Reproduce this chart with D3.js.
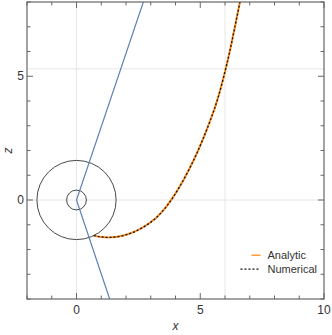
<!DOCTYPE html>
<html>
<head>
  <meta charset="utf-8">
  <title>trajectory</title>
  <style>
  body { margin: 0; background: #fff; }
  text { font-family: "Liberation Sans", Arial, sans-serif; fill: #333; }
  </style>
</head>
<body>
  <svg width="332" height="335"></svg>
  <script src="https://d3js.org/d3.v7.min.js"></script>
  <script>
  // axis ticks
  var xMajor = [0, 5, 10];
  var zMajor = [0, 5];
  var xMinor = [-2, -1, 1, 2, 3, 4, 6, 7, 8, 9];
  var zMinor = [-4, -3, -2, -1, 1, 2, 3, 4, 6, 7, 8];
  var xGrid = [0, 6];
  var zGrid = [0, 5.3];

  // circles round the origin
  var radii = [0.4, 1.6];

  // straight blue line through the origin
  var coneX = [1.34, 0, 2.7];
  var coneZ = [-4, 0, 8];

  // trajectory
  var trajX = [0.70, 1.0, 1.35, 1.8, 2.36, 3.0, 3.45, 3.88, 4.34, 4.76, 5.07, 5.42, 5.71, 6.03, 6.21, 6.35, 6.61, 6.70];
  var trajZ = [-1.44, -1.50, -1.52, -1.475, -1.30, -0.93, -0.51, 0.05, 0.82, 1.65, 2.35, 3.24, 4.05, 5.29, 6.07, 6.75, 8.03, 8.5];

  var legendNames = ["Analytic", "Numerical"];

  var svg = d3.select("svg"),
      margin = {top: 2, right: 8, bottom: 36, left: 27},
      width = +svg.attr("width") - margin.left - margin.right,
      height = +svg.attr("height") - margin.top - margin.bottom,
      g = svg.append("g").attr("transform", "translate(" + margin.left + "," + margin.top + ")");

  var x = d3.scaleLinear().domain([-2, 10]).range([0, width]);
  var y = d3.scaleLinear().domain([-4, 8]).range([height, 0]);

  g.append("clipPath").attr("id", "clip")
    .append("rect").attr("width", width).attr("height", height);

  // grid
  g.selectAll(".gx").data(xGrid).enter().append("line")
    .attr("x1", function(d) { return x(d); }).attr("x2", function(d) { return x(d); })
    .attr("y1", 0).attr("y2", height)
    .attr("stroke", "#e6e6e6").attr("stroke-width", 1);
  g.selectAll(".gz").data(zGrid).enter().append("line")
    .attr("y1", function(d) { return y(d); }).attr("y2", function(d) { return y(d); })
    .attr("x1", 0).attr("x2", width)
    .attr("stroke", "#e6e6e6").attr("stroke-width", 1);

  var plot = g.append("g").attr("clip-path", "url(#clip)");

  // circles
  plot.selectAll("circle").data(radii).enter().append("circle")
    .attr("cx", x(0)).attr("cy", y(0))
    .attr("r", function(d) { return x(d) - x(0); })
    .attr("fill", "none").attr("stroke", "#333").attr("stroke-width", 0.9);

  var line = d3.line()
    .x(function(d) { return x(d[0]); })
    .y(function(d) { return y(d[1]); });

  plot.append("path")
    .datum(d3.zip(coneX, coneZ))
    .attr("fill", "none").attr("stroke", "#5e81b5").attr("stroke-width", 1.2)
    .attr("d", line);

  var curve = d3.line()
    .curve(d3.curveBasis)
    .x(function(d) { return x(d[0]); })
    .y(function(d) { return y(d[1]); });

  var traj = d3.zip(trajX, trajZ);
  plot.append("path").datum(traj)
    .attr("fill", "none").attr("stroke", "#ff8c1a").attr("stroke-width", 2)
    .attr("d", curve);
  plot.append("path").datum(traj)
    .attr("fill", "none").attr("stroke", "#111").attr("stroke-width", 1.3)
    .attr("stroke-dasharray", "2,2")
    .attr("d", curve);

  // frame and ticks
  var frameColor = "#666";
  g.append("rect").attr("width", width).attr("height", height)
    .attr("fill", "none").attr("stroke", frameColor).attr("stroke-width", 1.2);

  function ticks(vals, len, axis) {
    vals.forEach(function(v) {
      if (axis === "x") {
        g.append("line").attr("x1", x(v)).attr("x2", x(v)).attr("y1", height).attr("y2", height - len)
          .attr("stroke", frameColor);
        g.append("line").attr("x1", x(v)).attr("x2", x(v)).attr("y1", 0).attr("y2", len)
          .attr("stroke", frameColor);
      } else {
        g.append("line").attr("y1", y(v)).attr("y2", y(v)).attr("x1", 0).attr("x2", len)
          .attr("stroke", frameColor);
        g.append("line").attr("y1", y(v)).attr("y2", y(v)).attr("x1", width).attr("x2", width - len)
          .attr("stroke", frameColor);
      }
    });
  }
  ticks(xMajor, 6, "x");
  ticks(xMinor, 3.5, "x");
  ticks(zMajor, 6, "z");
  ticks(zMinor, 3.5, "z");

  g.selectAll(".xl").data(xMajor).enter().append("text")
    .attr("x", function(d) { return x(d); }).attr("y", height + 15)
    .attr("text-anchor", "middle").style("font-size", "12px")
    .text(function(d) { return d; });
  g.selectAll(".zl").data(zMajor).enter().append("text")
    .attr("x", -3).attr("y", function(d) { return y(d) + 4; })
    .attr("text-anchor", "end").style("font-size", "12px")
    .text(function(d) { return d; });

  g.append("text").attr("x", width / 2).attr("y", height + 31)
    .attr("text-anchor", "middle").style("font-size", "12px").style("font-style", "italic")
    .text("x");
  g.append("text").attr("transform", "translate(" + (-15) + "," + (height / 2) + ") rotate(-90)")
    .attr("text-anchor", "middle").style("font-size", "12px").style("font-style", "italic")
    .text("z");

  // legend
  var leg = g.append("g").attr("transform", "translate(" + (x(7.07)) + "," + (y(-2.23)) + ")");
  leg.append("line").attr("x1", 0).attr("x2", 9).attr("y1", 0).attr("y2", 0)
    .attr("stroke", "#ff8c1a").attr("stroke-width", 1.3);
  leg.append("line").attr("x1", -11).attr("x2", 9).attr("y1", 14).attr("y2", 14)
    .attr("stroke", "#111").attr("stroke-width", 1.2).attr("stroke-dasharray", "2,2");
  leg.selectAll("text").data(legendNames).enter().append("text")
    .attr("x", 16).attr("y", function(d, i) { return i * 14 + 4; })
    .style("font-size", "11px")
    .text(function(d) { return d; });
  </script>
</body>
</html>
